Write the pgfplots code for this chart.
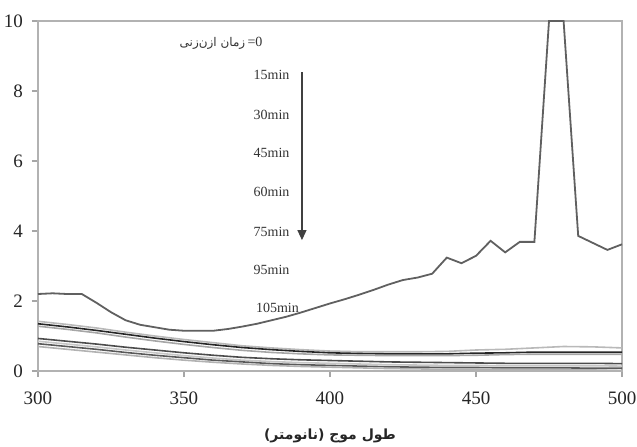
\documentclass[border=0pt]{standalone}
\usepackage{fontspec}
\setmainfont{Liberation Serif}
\newfontfamily\arabicfont[Script=Arabic]{DejaVu Sans}
\TeXXeTstate=1
\usepackage{pgfplots}
\pgfplotsset{compat=1.18}
\usetikzlibrary{arrows.meta}

% top curve: time 0
\pgfplotstableread{
x y
300 2.20
305 2.22
310 2.20
315 2.20
320 1.95
325 1.68
330 1.45
335 1.32
340 1.25
345 1.18
350 1.15
355 1.15
360 1.15
365 1.20
370 1.27
375 1.35
380 1.45
385 1.55
390 1.67
395 1.80
400 1.93
405 2.05
410 2.18
415 2.32
420 2.47
425 2.60
430 2.67
435 2.78
440 3.24
445 3.08
450 3.29
455 3.72
460 3.39
465 3.69
470 3.69
475 10.0
480 10.0
485 3.86
490 3.66
495 3.46
500 3.62
}\tzero

% later times: 15, 30, 45, 60, 75, 95, 105 min
\pgfplotstableread{
x  a    b    c    d    e    f    g
300 1.42 1.35 1.28 0.93 0.85 0.78 0.70
310 1.33 1.26 1.19 0.85 0.77 0.70 0.62
320 1.23 1.16 1.09 0.77 0.69 0.62 0.54
330 1.11 1.05 0.97 0.68 0.60 0.53 0.46
340 1.00 0.94 0.86 0.60 0.52 0.45 0.38
350 0.90 0.84 0.76 0.52 0.44 0.38 0.31
360 0.81 0.75 0.67 0.45 0.37 0.31 0.25
370 0.72 0.67 0.59 0.39 0.31 0.26 0.20
380 0.66 0.61 0.53 0.35 0.27 0.21 0.16
390 0.61 0.56 0.49 0.32 0.24 0.18 0.13
400 0.57 0.52 0.46 0.30 0.22 0.16 0.11
410 0.55 0.50 0.45 0.28 0.20 0.14 0.09
420 0.55 0.49 0.44 0.26 0.18 0.12 0.07
430 0.55 0.49 0.44 0.25 0.17 0.11 0.06
440 0.56 0.49 0.44 0.24 0.16 0.10 0.05
450 0.60 0.51 0.45 0.23 0.16 0.10 0.05
460 0.62 0.52 0.47 0.22 0.15 0.09 0.04
470 0.66 0.54 0.48 0.22 0.15 0.09 0.04
480 0.70 0.54 0.48 0.22 0.15 0.09 0.03
490 0.69 0.54 0.48 0.22 0.15 0.08 0.03
500 0.66 0.54 0.48 0.21 0.14 0.08 0.01
}\tlater

\begin{document}
\begin{tikzpicture}
\useasboundingbox (-19pt,-37.5pt) rectangle (299.5pt,185.5pt);
\begin{axis}[scale only axis, width=292pt, height=175pt,
  xmin=300, xmax=500, ymin=0, ymax=10,
  xtick={300,350,400,450,500}, ytick={0,2,...,10},
  axis line style={gray!60, line width=0.6pt},
  tick style={gray!70, line width=0.6pt}, tick align=outside,
  major tick length=3pt, xtick pos=bottom, ytick pos=left,
  ticklabel style={font=\fontsize{9.5}{10}\selectfont, text=black!85},
  /pgf/number format/assume math mode=true,
  xticklabel style={yshift=-4pt},
  yticklabel style={xshift=-1pt},
  clip=false]
\addplot[gray!75!black, line width=0.9pt] table[x=x,y=y]{\tzero};
\addplot[gray!55, line width=0.8pt] table[x=x,y=a]{\tlater};
\addplot[gray!30!black, line width=0.8pt] table[x=x,y=b]{\tlater};
\addplot[gray!70, line width=0.8pt] table[x=x,y=c]{\tlater};
\addplot[gray!60!black, line width=0.8pt] table[x=x,y=d]{\tlater};
\addplot[gray!45, line width=0.8pt] table[x=x,y=e]{\tlater};
\addplot[gray!70!black, line width=0.8pt] table[x=x,y=f]{\tlater};
\addplot[gray!60, line width=0.8pt] table[x=x,y=g]{\tlater};

\begin{scope}[every node/.style={font=\fontsize{7}{8}\selectfont, text=black!80, inner sep=0pt}]
\node at (axis cs:380,8.46) {15min};
\node at (axis cs:380,7.31) {30min};
\node at (axis cs:380,6.23) {45min};
\node at (axis cs:380,5.11) {60min};
\node at (axis cs:380,3.97) {75min};
\node at (axis cs:380,2.89) {95min};
\node at (axis cs:382,1.80) {105min};
\node at (axis cs:362.7,9.37) {{\arabicfont\fontsize{6}{7}\selectfont\beginR زمان ازن‌زنی\endR}\,{\fontsize{7}{8}\selectfont =0}};
\end{scope}
\draw[black!75, line width=0.6pt, -{Triangle[length=5pt, width=4.5pt]}] (axis cs:390.4,8.54) -- (axis cs:390.4,3.74);
\node[font=\arabicfont\bfseries\fontsize{7}{8}\selectfont, text=black!85] at (axis cs:400,-1.85) {\beginR طول موج (نانومتر)\endR};
\end{axis}
\end{tikzpicture}
\end{document}
